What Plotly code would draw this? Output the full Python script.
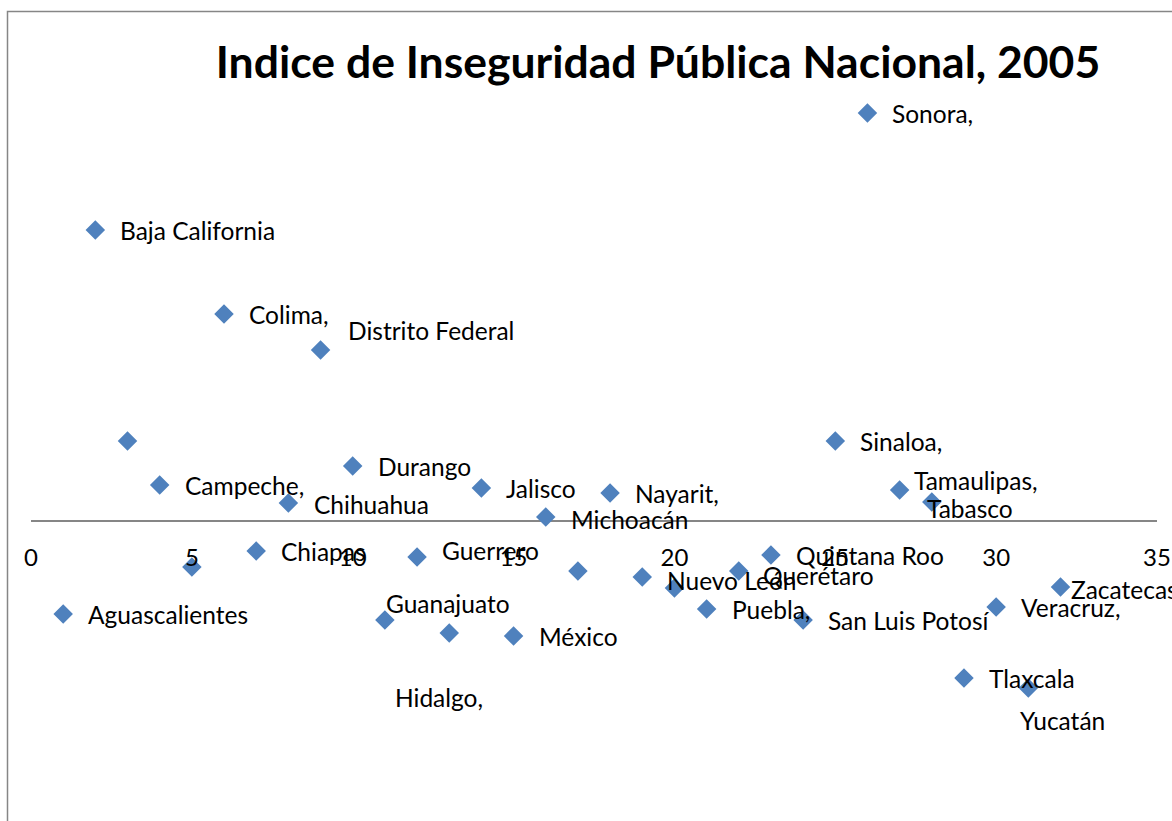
import plotly.graph_objects as go

# ---- data ----
estado_num = list(range(1, 33))
indice = [-0.93, 2.91, 0.80, 0.36, -0.46, 2.07, -0.30, 0.18, 1.71, 0.55,
          -0.99, -0.36, -1.12, 0.33, -1.15, 0.04, -0.50, 0.28, -0.56, -0.67,
          -0.88, -0.50, -0.34, -0.99, 0.80, 4.08, 0.31, 0.19, -1.57, -0.86,
          -1.67, -0.66]
etiquetas = ["Aguascalientes", "Baja California", "", "Campeche,", "", "Colima,",
             "Chiapas", "Chihuahua", "Distrito Federal", "Durango", "Guanajuato",
             "Guerrero", "Hidalgo,", "Jalisco", "México", "Michoacán", "",
             "Nayarit,", "Nuevo León", "", "Puebla,", "Querétaro", "Quintana Roo",
             "San Luis Potosí", "Sinaloa,", "Sonora,", "Tamaulipas,", "Tabasco",
             "Tlaxcala", "Veracruz,", "Yucatán", "Zacatecas"]
x_ticks = [0, 5, 10, 15, 20, 25, 30, 35]
titulo = "Indice de Inseguridad Pública Nacional, 2005"

# ---- label offsets (pixels: dx right, dy down) ----
default_off = (23, 0)
label_off = {
    "Distrito Federal": (25, -20),
    "Guanajuato": (-1, -17),
    "Hidalgo,": (-56, 64),
    "Guerrero": (23, -7),
    "Querétaro": (22, 4),
    "Nuevo León": (23, 3),
    "Tamaulipas,": (12, -10),
    "Tabasco": (-7, 6),
    "Yucatán": (-10, 32),
    "Zacatecas": (9, 2),
    "Chihuahua": (24, 1),
    "Michoacán": (23, 2),
}

W, H = 1172, 821
FONT = "Lato"
BLUE = "#4F81BD"

fig = go.Figure()
fig.add_trace(go.Scatter(
    x=estado_num, y=indice, mode="markers",
    marker=dict(symbol="diamond", size=15, color=BLUE, line=dict(width=0)),
    cliponaxis=False, hoverinfo="skip", showlegend=False,
))

for xv, yv, lab in zip(estado_num, indice, etiquetas):
    if not lab:
        continue
    dx, dy = label_off.get(lab, default_off)
    fig.add_annotation(x=xv, y=yv, xref="x", yref="y", text=lab,
                       showarrow=False, xanchor="left", yanchor="middle",
                       xshift=dx, yshift=-dy,
                       font=dict(family=FONT, size=24.5, color="#000000"))

axis_py = 521
ypix_per_unit = 100.0
y_top = axis_py / ypix_per_unit
y_bot = y_top - H / ypix_per_unit

fig.update_layout(
    width=W, height=H, autosize=False,
    margin=dict(l=0, r=0, t=0, b=0, pad=0, autoexpand=False),
    paper_bgcolor="white", plot_bgcolor="white",
    title=dict(text="<b>" + titulo + "</b>", x=658 / W, xanchor="center",
               y=1 - 62 / H, yanchor="middle",
               font=dict(family=FONT, size=44.5, color="#000000")),
    xaxis=dict(domain=[31 / W, 1157 / W], range=[0, 35], tickvals=x_ticks,
               showgrid=False, zeroline=False, showline=False, ticks="",
               anchor="free", position=(H - axis_py) / H, automargin=False,
               ticklabelstandoff=20,
               tickfont=dict(family=FONT, size=24, color="#000000")),
    yaxis=dict(domain=[0, 1], range=[y_bot, y_top], showgrid=False,
               zeroline=True, zerolinecolor="#868686", zerolinewidth=2,
               showticklabels=False, ticks="", showline=False, automargin=False),
    shapes=[dict(type="rect", xref="paper", yref="paper",
                 x0=7.5 / W, x1=1.02, y0=-0.02, y1=1 - 11.5 / H,
                 line=dict(color="#868686", width=1.5), layer="below")],
)

fig.write_html(
    "out.html",
    config={"displayModeBar": False, "staticPlot": True},
    post_script="document.body.style.margin='0';document.body.style.overflow='hidden';",
)
